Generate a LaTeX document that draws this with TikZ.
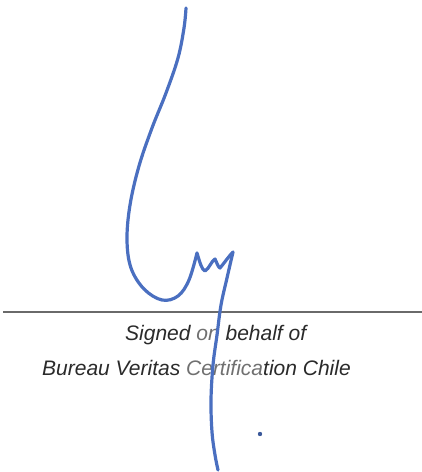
\documentclass[tikz,border=0pt]{standalone}
\usepackage{fontspec}
\setmainfont{Liberation Sans}
\definecolor{ink}{HTML}{4A6FC0}
\definecolor{rulegray}{HTML}{6A6A6A}
\definecolor{txt}{HTML}{2A2A2A}
\definecolor{faded}{HTML}{707070}
\tikzset{
  sig/.style={draw=ink, line width=3.2pt, line cap=round, line join=round},
  lbl/.style={anchor=base west, inner sep=0pt, text=txt, font=\fontsize{21}{25}\selectfont\itshape}
}
\begin{document}
\begin{tikzpicture}[x=1pt,y=-1pt]
\useasboundingbox (0,0) rectangle (422,472);
% signature rule
\coordinate (ruleL) at (3,312);
\coordinate (ruleR) at (422,312);
\draw[rulegray, line width=1.6pt] (ruleL) -- (ruleR);
% texts
\node[lbl] (l1) at (125,340) {Signed \textcolor{faded}{on} behalf of};
\node[lbl] (l2) at (42,375) {Bureau Veritas \textcolor{faded}{Certifica}tion Chile};
% signature stroke
\draw[sig] plot[smooth, tension=0.6] coordinates {(186,8) (184,28) (178,58) (166,93) (152,128) (139,166) (130,205) (127,240) (131,268) (144,289) (162,300) (178,296) (189,280) (197,253)};
\draw[sig] (197,253) .. controls (200,263) and (202,270) .. (205,271)
  .. controls (209,269) and (212,260) .. (215,259)
  .. controls (217,263) and (218,267) .. (220,268)
  .. controls (225,262) and (229,256) .. (233,252);
\draw[sig] plot[smooth, tension=0.6] coordinates {(233,252) (227,278) (221,305) (217,335) (213,365) (211,400) (212,432) (215,455) (218,470)};
% dot
\fill[ink!80!black] (260,434) circle (2.2);
\end{tikzpicture}
\end{document}
